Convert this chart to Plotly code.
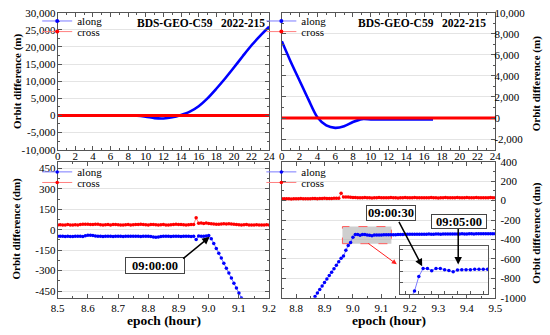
import plotly.graph_objects as go

W, H = 550, 335
FONT = "Liberation Serif"

# ---------------- data ----------------
HOURS = [0, 1, 2, 3, 4, 5, 6, 7, 8, 9, 10, 11, 12, 13, 14, 15, 16, 17, 18, 19, 20, 21, 22, 23, 24]
TL_ALONG = [0, 0, 0, 0, 0, 0, 0, 0, 0, -50, -350, -780, -880, -550, 150, 1100, 2700, 5000,
            7800, 10800, 14000, 17300, 20500, 23300, 25900]
TL_CROSS = [0, 0, 0, 0, 0, 0, 0, 0, 0, 0, 0, 0, 0, 0, 0, 0, 0, 0, 0, 0, 0, 0, 0, 0, 0]

TR_HOURS_ALONG = [0, 1, 2, 3, 4, 5, 6, 7, 8, 9, 10, 11, 12, 13, 14, 15, 16, 17]
TR_ALONG = [7300, 5350, 3550, 1750, 80, -700, -930, -780, -380, -100, -120, -120, -120,
            -120, -120, -120, -120, -120]
TR_CROSS = [0, 0, 0, 0, 0, 0, 0, 0, 0, 0, 0, 0, 0, 0, 0, 0, 0, 0, 0, 0, 0, 0, 0, 0, 0]

STEP_H = 30 / 3600.0  # 30-second sampling

BL_START = 8.5
BL_CROSS = [36, 37, 35, 36, 38, 36, 35, 37, 36, 38,
            40, 41, 40, 38, 39, 41, 40, 37, 36, 37,
            38, 36, 38, 39, 37, 36, 35, 37, 38, 36,
            37, 38, 39, 40, 38, 37, 36, 38, 39, 37,
            36, 37, 38, 36, 35, 37, 38, 40, 39, 38,
            37, 36, 37, 38, 39, 88, 48, 50, 47, 50,
            46, 44, 42, 40, 41, 42, 44, 43, 45, 42,
            40, 38, 37, 36, 37, 38, 36, 35, 36, 37,
            36, 35, 36, 37, 36]
BL_ALONG = [-48, -48, -47, -49, -48, -50, -49, -48, -47, -48,
            -50, -44, -40, -40, -42, -45, -47, -48, -49, -48,
            -47, -48, -49, -48, -47, -48, -49, -48, -47, -48,
            -48, -47, -48, -49, -48, -47, -48, -49, -53, -55,
            -53, -50, -48, -47, -48, -49, -48, -47, -48, -49,
            -48, -47, -48, -49, -48, -72, -46, -47, -48, -46,
            -42, -65, -100, -137, -172, -208, -245, -282, -318, -355,
            -392, -428, -465, -502]

BR_START = 8.75
BR_CROSS = [18, 19, 20, 18, 17, 18, 19, 20, 21, 20,
            19, 18, 20, 21, 22, 20, 21, 22, 23, 22,
            21, 22, 23, 24, 25, 75, 38, 36, 37, 35,
            33, 31, 30, 29, 30, 31, 30, 29, 28, 29,
            30, 31, 30, 29, 30, 30, 31, 30, 29, 28,
            29, 30, 31, 30, 29, 30, 31, 30, 29, 30,
            30, 29, 30, 31, 30, 29, 28, 29, 30, 31,
            30, 29, 30, 30, 31, 30, 29, 30, 31, 30,
            29, 30, 31, 30, 29, 30, 29, 30, 31, 30,
            30]
BR_ALONG_FIRST = 14  # first sample index (08:52:00) of the along series
BR_ALONG = [-985, -949, -914, -878, -843, -807, -771, -736, -700, -664, -629, -593, -570,
            -510, -461, -431, -378,
            -349, -349, -357, -349, -349, -353, -356, -361, -354, -353, -353, -353,
            -352, -352, -352, -352,
            -351, -350, -349, -348, -348, -347, -347, -346, -346, -347,
            -346, -345, -345, -346, -345, -344, -345, -345, -344, -344,
            -345, -344, -343, -344, -344, -343, -343, -344, -343, -342,
            -343, -343, -342, -342, -343, -342, -342, -341, -342, -342,
            -341, -342, -341, -341]

BL_EPOCH = [BL_START + k * STEP_H for k in range(len(BL_CROSS))]
BR_EPOCH = [BR_START + k * STEP_H for k in range(len(BR_CROSS))]
BL_ALONG_EPOCH = BL_EPOCH[:len(BL_ALONG)]
BR_ALONG_EPOCH = BR_EPOCH[BR_ALONG_FIRST:BR_ALONG_FIRST + len(BR_ALONG)]

TOP_X_TICKS = [0, 2, 4, 6, 8, 10, 12, 14, 16, 18, 20, 22, 24]
TL_Y_TICKS = [-10000, -5000, 0, 5000, 10000, 15000, 20000, 25000, 30000]
TL_Y_TEXT = ["-10,000", "-5,000", "0", "5,000", "10,000", "15,000", "20,000", "25,000", "30,000"]
TR_Y_TICKS = [-2000, 0, 2000, 4000, 6000, 8000, 10000]
TR_Y_TEXT = ["-2,000", "0", "2,000", "4,000", "6,000", "8,000", "10,000"]
BL_X_TICKS = [8.5, 8.6, 8.7, 8.8, 8.9, 9.0, 9.1, 9.2]
BL_X_TEXT = ["8.5", "8.6", "8.7", "8.8", "8.9", "9.0", "9.1", "9.2"]
BL_Y_TICKS = [-450, -300, -150, 0, 150, 300, 450]
BL_Y_TEXT = ["-450", "-300", "-150", "0", "150", "300", "450"]
BR_X_TICKS = [8.8, 8.9, 9.0, 9.1, 9.2, 9.3, 9.4, 9.5]
BR_X_TEXT = ["8.8", "8.9", "9.0", "9.1", "9.2", "9.3", "9.4", "9.5"]
BR_Y_TICKS = [-1000, -800, -600, -400, -200, 0, 200, 400]
BR_Y_TEXT = ["-1000", "-800", "-600", "-400", "-200", "0", "200", "400"]

BLUE = "#0000ff"
RED = "#ff0000"
BLUE_LINE = "#7b7bff"
RED_LINE = "#ff8080"

# ---------------- figure ----------------
def px_x(p):
    return p / W


def px_y(p):
    return 1 - p / H


fig = go.Figure()

# top-left
fig.add_trace(go.Scatter(x=HOURS, y=TL_ALONG, mode="lines", line=dict(color=BLUE, width=2.6, shape="spline", smoothing=0.8),
                         showlegend=False, xaxis="x", yaxis="y"))
fig.add_trace(go.Scatter(x=HOURS, y=TL_CROSS, mode="lines", line=dict(color=RED, width=3),
                         showlegend=False, xaxis="x", yaxis="y"))
# top-right
fig.add_trace(go.Scatter(x=TR_HOURS_ALONG, y=TR_ALONG, mode="lines", line=dict(color=BLUE, width=2.6, shape="spline", smoothing=0.8),
                         showlegend=False, xaxis="x2", yaxis="y2"))
fig.add_trace(go.Scatter(x=HOURS, y=TR_CROSS, mode="lines", line=dict(color=RED, width=3),
                         showlegend=False, xaxis="x2", yaxis="y2"))

# legend proxies for the top panels
for lg, ax, ay in [("legend", "x", "y"), ("legend3", "x2", "y2")]:
    fig.add_trace(go.Scatter(x=[None], y=[None], mode="lines+markers", name="along",
                             line=dict(color=BLUE_LINE, width=1), marker=dict(color=BLUE, size=4),
                             legend=lg, xaxis=ax, yaxis=ay))
for lg, ax, ay in [("legend2", "x", "y"), ("legend4", "x2", "y2")]:
    fig.add_trace(go.Scatter(x=[None], y=[None], mode="lines+markers", name="cross",
                             line=dict(color=RED_LINE, width=1), marker=dict(color=RED, size=4),
                             legend=lg, xaxis=ax, yaxis=ay))

# bottom-left
fig.add_trace(go.Scatter(x=BL_ALONG_EPOCH, y=BL_ALONG, mode="lines+markers", name="along",
                         line=dict(color=BLUE_LINE, width=1), marker=dict(color=BLUE, size=3.5),
                         legend="legend5", xaxis="x3", yaxis="y3"))
fig.add_trace(go.Scatter(x=BL_EPOCH, y=BL_CROSS, mode="lines+markers", name="cross",
                         line=dict(color=RED_LINE, width=1), marker=dict(color=RED, size=3.5),
                         legend="legend6", xaxis="x3", yaxis="y3"))
# bottom-right
fig.add_trace(go.Scatter(x=BR_ALONG_EPOCH, y=BR_ALONG, mode="lines+markers", name="along",
                         line=dict(color=BLUE_LINE, width=1), marker=dict(color=BLUE, size=3.5),
                         legend="legend7", xaxis="x4", yaxis="y4"))
fig.add_trace(go.Scatter(x=BR_EPOCH, y=BR_CROSS, mode="lines+markers", name="cross",
                         line=dict(color=RED_LINE, width=1), marker=dict(color=RED, size=3.5),
                         legend="legend8", xaxis="x4", yaxis="y4"))
# inset
fig.add_trace(go.Scatter(x=BR_ALONG_EPOCH, y=BR_ALONG, mode="lines+markers",
                         line=dict(color=BLUE_LINE, width=1), marker=dict(color=BLUE, size=3.5),
                         showlegend=False, xaxis="x5", yaxis="y5"))

AXC = "#555555"
GRID = "#e4e4e4"


def axis(**kw):
    d = dict(showline=True, linecolor=AXC, linewidth=1, mirror="ticks", ticks="inside",
             ticklen=4, tickcolor=AXC, tickwidth=1, zeroline=False, showgrid=False,
             tickfont=dict(family=FONT, size=11, color="black"), fixedrange=True)
    d.update(kw)
    return d


TOP_Y = [px_y(149), px_y(7)]
BOT_Y = [px_y(302.7), px_y(161.5)]
LEFT_X = [px_x(52), px_x(269)]
RIGHT_X = [px_x(282), px_x(501)]

fig.update_layout(
    width=W, height=H, margin=dict(l=0, r=0, t=0, b=0),
    paper_bgcolor="white", plot_bgcolor="white",
    font=dict(family=FONT, color="black"),
    xaxis=axis(domain=LEFT_X, anchor="y", range=[0, 24], tickmode="array", tickvals=TOP_X_TICKS,
               ticklabelstandoff=-4,
               minor=dict(ticks="inside", ticklen=2, tickmode="linear", tick0=0, dtick=1, tickcolor=AXC)),
    yaxis=axis(domain=TOP_Y, anchor="x", range=[-10000, 30000], tickmode="array", tickvals=TL_Y_TICKS,
               ticktext=TL_Y_TEXT, showgrid=True, gridcolor=GRID, ticklabelstandoff=-1,
               minor=dict(ticks="inside", ticklen=2, tickmode="linear", tick0=0, dtick=2500, tickcolor=AXC)),
    xaxis2=axis(domain=RIGHT_X, anchor="y2", range=[0, 24], tickmode="array", tickvals=TOP_X_TICKS,
                ticklabelstandoff=-4,
                minor=dict(ticks="inside", ticklen=2, tickmode="linear", tick0=0, dtick=1, tickcolor=AXC)),
    yaxis2=axis(domain=TOP_Y, anchor="x2", side="right", range=[-3000, 10000], tickmode="array",
                tickvals=TR_Y_TICKS, ticktext=TR_Y_TEXT, showgrid=True, gridcolor=GRID, ticklabelstandoff=-4,
                minor=dict(ticks="inside", ticklen=2, tickmode="linear", tick0=0, dtick=1000, tickcolor=AXC)),
    xaxis3=axis(domain=LEFT_X, anchor="y3", range=[8.5, 9.2], tickmode="array", tickvals=BL_X_TICKS,
                ticktext=BL_X_TEXT,
                minor=dict(ticks="inside", ticklen=2, tickmode="linear", tick0=8.5, dtick=0.05, tickcolor=AXC)),
    yaxis3=axis(domain=BOT_Y, anchor="x3", range=[-500, 500], tickmode="array", tickvals=BL_Y_TICKS,
                ticktext=BL_Y_TEXT, showgrid=True, gridcolor=GRID, ticklabelstandoff=-1,
                minor=dict(ticks="inside", ticklen=2, tickmode="linear", tick0=0, dtick=75, tickcolor=AXC)),
    xaxis4=axis(domain=RIGHT_X, anchor="y4", range=[8.75, 9.5], tickmode="array", tickvals=BR_X_TICKS,
                ticktext=BR_X_TEXT,
                minor=dict(ticks="inside", ticklen=2, tickmode="linear", tick0=8.75, dtick=0.05, tickcolor=AXC)),
    yaxis4=axis(domain=BOT_Y, anchor="x4", side="right", range=[-1000, 400], tickmode="array",
                tickvals=BR_Y_TICKS, ticktext=BR_Y_TEXT, showgrid=True, gridcolor=GRID, ticklabelstandoff=2,
                minor=dict(ticks="inside", ticklen=2, tickmode="linear", tick0=0, dtick=100, tickcolor=AXC)),
    xaxis5=axis(domain=[px_x(403), px_x(494)], anchor="y5", range=[8.963, 9.135], showticklabels=False,
                ticklen=3, dtick=0.025, tick0=9.0, mirror=True),
    yaxis5=axis(domain=[px_y(299), px_y(249)], anchor="x5", range=[-443, -267], showticklabels=False,
                ticklen=3, dtick=40, tick0=-440, showgrid=True, gridcolor=GRID, mirror=True),
)

# legends: one item each; top edge given in pixels, text starts ~54 px right of the left edge
def legend_at(text_x, top_px):
    return dict(x=px_x(text_x - 54), y=px_y(top_px), xanchor="left", yanchor="top",
                bgcolor="rgba(0,0,0,0)", borderwidth=0, font=dict(family=FONT, size=11, color="black"),
                itemwidth=30)


fig.update_layout(
    legend=legend_at(85, 0.5), legend2=legend_at(85, 11.5),
    legend3=legend_at(315, 0.5), legend4=legend_at(315, 11.5),
    legend5=legend_at(85, 157), legend6=legend_at(85, 168),
    legend7=legend_at(315, 157), legend8=legend_at(315, 168),
)

# gray zoom rectangle
fig.add_shape(type="rect", xref="x4", yref="y4", x0=8.963, x1=9.135, y0=-443, y1=-267,
              fillcolor="rgba(165,165,165,0.55)", line=dict(color="#ff5a5a", width=1, dash="dash"),
              layer="between")

ann = []
TITLE = "<b>BDS-GEO-C59   2022-215</b>"
ann.append(dict(text=TITLE, xref="paper", yref="paper", x=px_x(267), y=px_y(18), xanchor="right",
                yanchor="middle", showarrow=False, font=dict(family=FONT, size=11.5, color="black")))
ann.append(dict(text=TITLE, xref="paper", yref="paper", x=px_x(494), y=px_y(18), xanchor="right",
                yanchor="middle", showarrow=False, font=dict(family=FONT, size=11.5, color="black")))
# axis titles
for txt, xx, yy in [("<b>Orbit difference (m)</b>", 10, 78), ("<b>Orbit difference (m)</b>", 543, 81),
                    ("<b>Orbit difference (dm)</b>", 10, 231), ("<b>Orbit difference (dm)</b>", 543, 235)]:
    ann.append(dict(text=txt, xref="paper", yref="paper", x=px_x(xx), y=px_y(yy), xanchor="center",
                    yanchor="middle", textangle=-90, showarrow=False,
                    font=dict(family=FONT, size=11, color="black")))
for xx in [161, 392]:
    ann.append(dict(text="<b>epoch (hour)</b>", xref="paper", yref="paper", x=px_x(xx), y=px_y(326),
                    xanchor="center", yanchor="middle", showarrow=False,
                    font=dict(family=FONT, size=13.5, color="black")))
# boxed time labels
for txt, cx, cy, w, h in [("09:00:00", 151.7, 268.7, 58, 15), ("09:00:30", 394, 215, 48, 14),
                          ("09:05:00", 464, 223.5, 54, 13)]:
    ann.append(dict(text="<b>" + txt + "</b>", xref="paper", yref="paper", x=px_x(cx), y=px_y(cy),
                    xanchor="center", yanchor="middle", showarrow=False, width=w, height=h,
                    bgcolor="white", bordercolor="#444444", borderwidth=1, borderpad=0,
                    font=dict(family=FONT, size=12.5, color="black")))
# arrows
ann.append(dict(text="", x=9.003, y=-52, xref="x3", yref="y3", ax=-28, ay=23, showarrow=True,
                arrowhead=2, arrowsize=1, arrowwidth=1.5, arrowcolor="black"))
ann.append(dict(text="", x=9.0065, y=-341, xref="x5", yref="y5", ax=-24, ay=-46, showarrow=True,
                arrowhead=2, arrowsize=1, arrowwidth=1.5, arrowcolor="black"))
ann.append(dict(text="", x=9.0764, y=-334, xref="x5", yref="y5", ax=0, ay=-37, showarrow=True,
                arrowhead=2, arrowsize=1, arrowwidth=1.5, arrowcolor="black"))
ann.append(dict(text="", x=9.154, y=-655, xref="x4", yref="y4", ax=-30, ay=-22, showarrow=True,
                arrowhead=2, arrowsize=1, arrowwidth=1, arrowcolor="#ff2020"))
fig.update_layout(annotations=ann)

fig.write_html("out.html", config={"displayModeBar": False},
               post_script=["document.body.style.margin='0';"])
